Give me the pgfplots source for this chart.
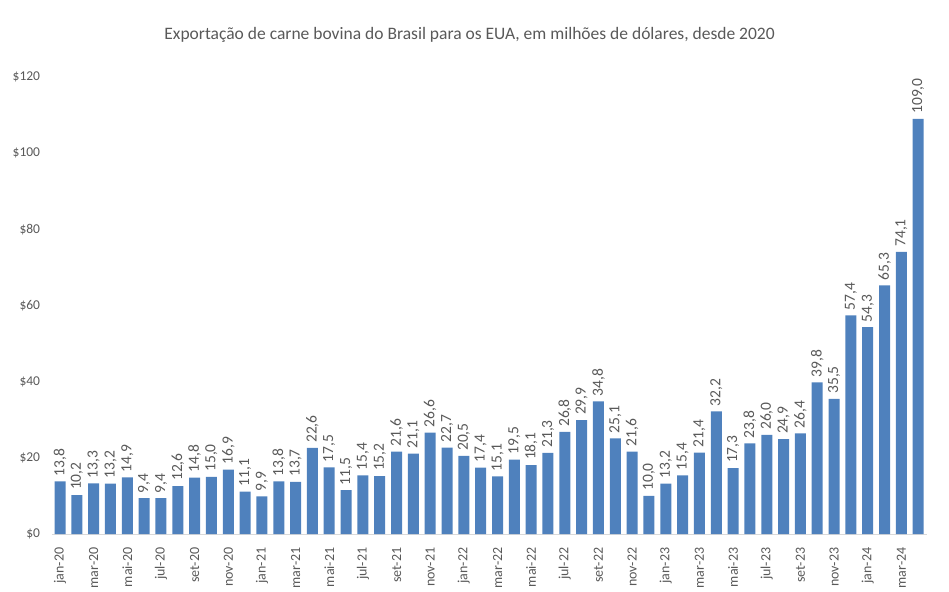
\documentclass[border=0pt]{standalone}
\usepackage{pgfplots}
\pgfplotsset{compat=1.18}
\usepackage{fontspec}
\setmainfont{Carlito}
\definecolor{barblue}{HTML}{4F81BD}
\definecolor{txt}{HTML}{595959}
\definecolor{axisgray}{HTML}{D9D9D9}
\begin{document}
\begin{tikzpicture}
\begin{axis}[
  at={(0pt,0pt)}, anchor=south west,
  scale only axis, width=875pt, height=457pt,
  xmin=-0.5, xmax=51.5, ymin=0, ymax=120,
  ytick={0,20,...,120},
  yticklabel={\$\pgfmathprintnumber{\tick}},
  /pgf/number format/assume math mode=true,
  xtick={0,2,...,50},
  xticklabels={jan-20,mar-20,mai-20,jul-20,set-20,nov-20,jan-21,mar-21,mai-21,jul-21,set-21,nov-21,jan-22,mar-22,mai-22,jul-22,set-22,nov-22,jan-23,mar-23,mai-23,jul-23,set-23,nov-23,jan-24,mar-24},
  xticklabel style={rotate=90, anchor=east, font=\fontsize{14}{14}\selectfont, text=txt, xshift=-10pt},
  yticklabel style={font=\fontsize{13.5}{13.5}\selectfont, text=txt, xshift=-8pt},
  major tick length=0pt,
  axis x line*=bottom, axis y line*=left,
  x axis line style={draw=axisgray, line width=1pt, -},
  y axis line style={draw=none},
  ybar, bar width=11pt,
  nodes near coords,
  every node near coord/.append style={rotate=90, anchor=west, font=\fontsize{15.5}{15.5}\selectfont, text=txt, inner sep=2pt, xshift=3pt,
    /pgf/number format/.cd, fixed, fixed zerofill, precision=1, use comma},
  clip=false,
]
\addplot[fill=barblue, draw=none] coordinates {
(0,13.8)(1,10.2)(2,13.3)(3,13.2)(4,14.9)(5,9.4)(6,9.4)(7,12.6)(8,14.8)(9,15.0)(10,16.9)(11,11.1)
(12,9.9)(13,13.8)(14,13.7)(15,22.6)(16,17.5)(17,11.5)(18,15.4)(19,15.2)(20,21.6)(21,21.1)(22,26.6)(23,22.7)
(24,20.5)(25,17.4)(26,15.1)(27,19.5)(28,18.1)(29,21.3)(30,26.8)(31,29.9)(32,34.8)(33,25.1)(34,21.6)(35,10.0)
(36,13.2)(37,15.4)(38,21.4)(39,32.2)(40,17.3)(41,23.8)(42,26.0)(43,24.9)(44,26.4)(45,39.8)(46,35.5)(47,57.4)
(48,54.3)(49,65.3)(50,74.1)(51,109.0)
};
\end{axis}
\node[text=txt, font=\fontsize{17.5}{17.5}\selectfont] at (418pt,499pt) {Exportação de carne bovina do Brasil para os EUA, em milhões de dólares, desde 2020};
\path[use as bounding box] (-51.6pt,-56pt) rectangle (897.4pt,534pt);
\end{tikzpicture}
\end{document}
